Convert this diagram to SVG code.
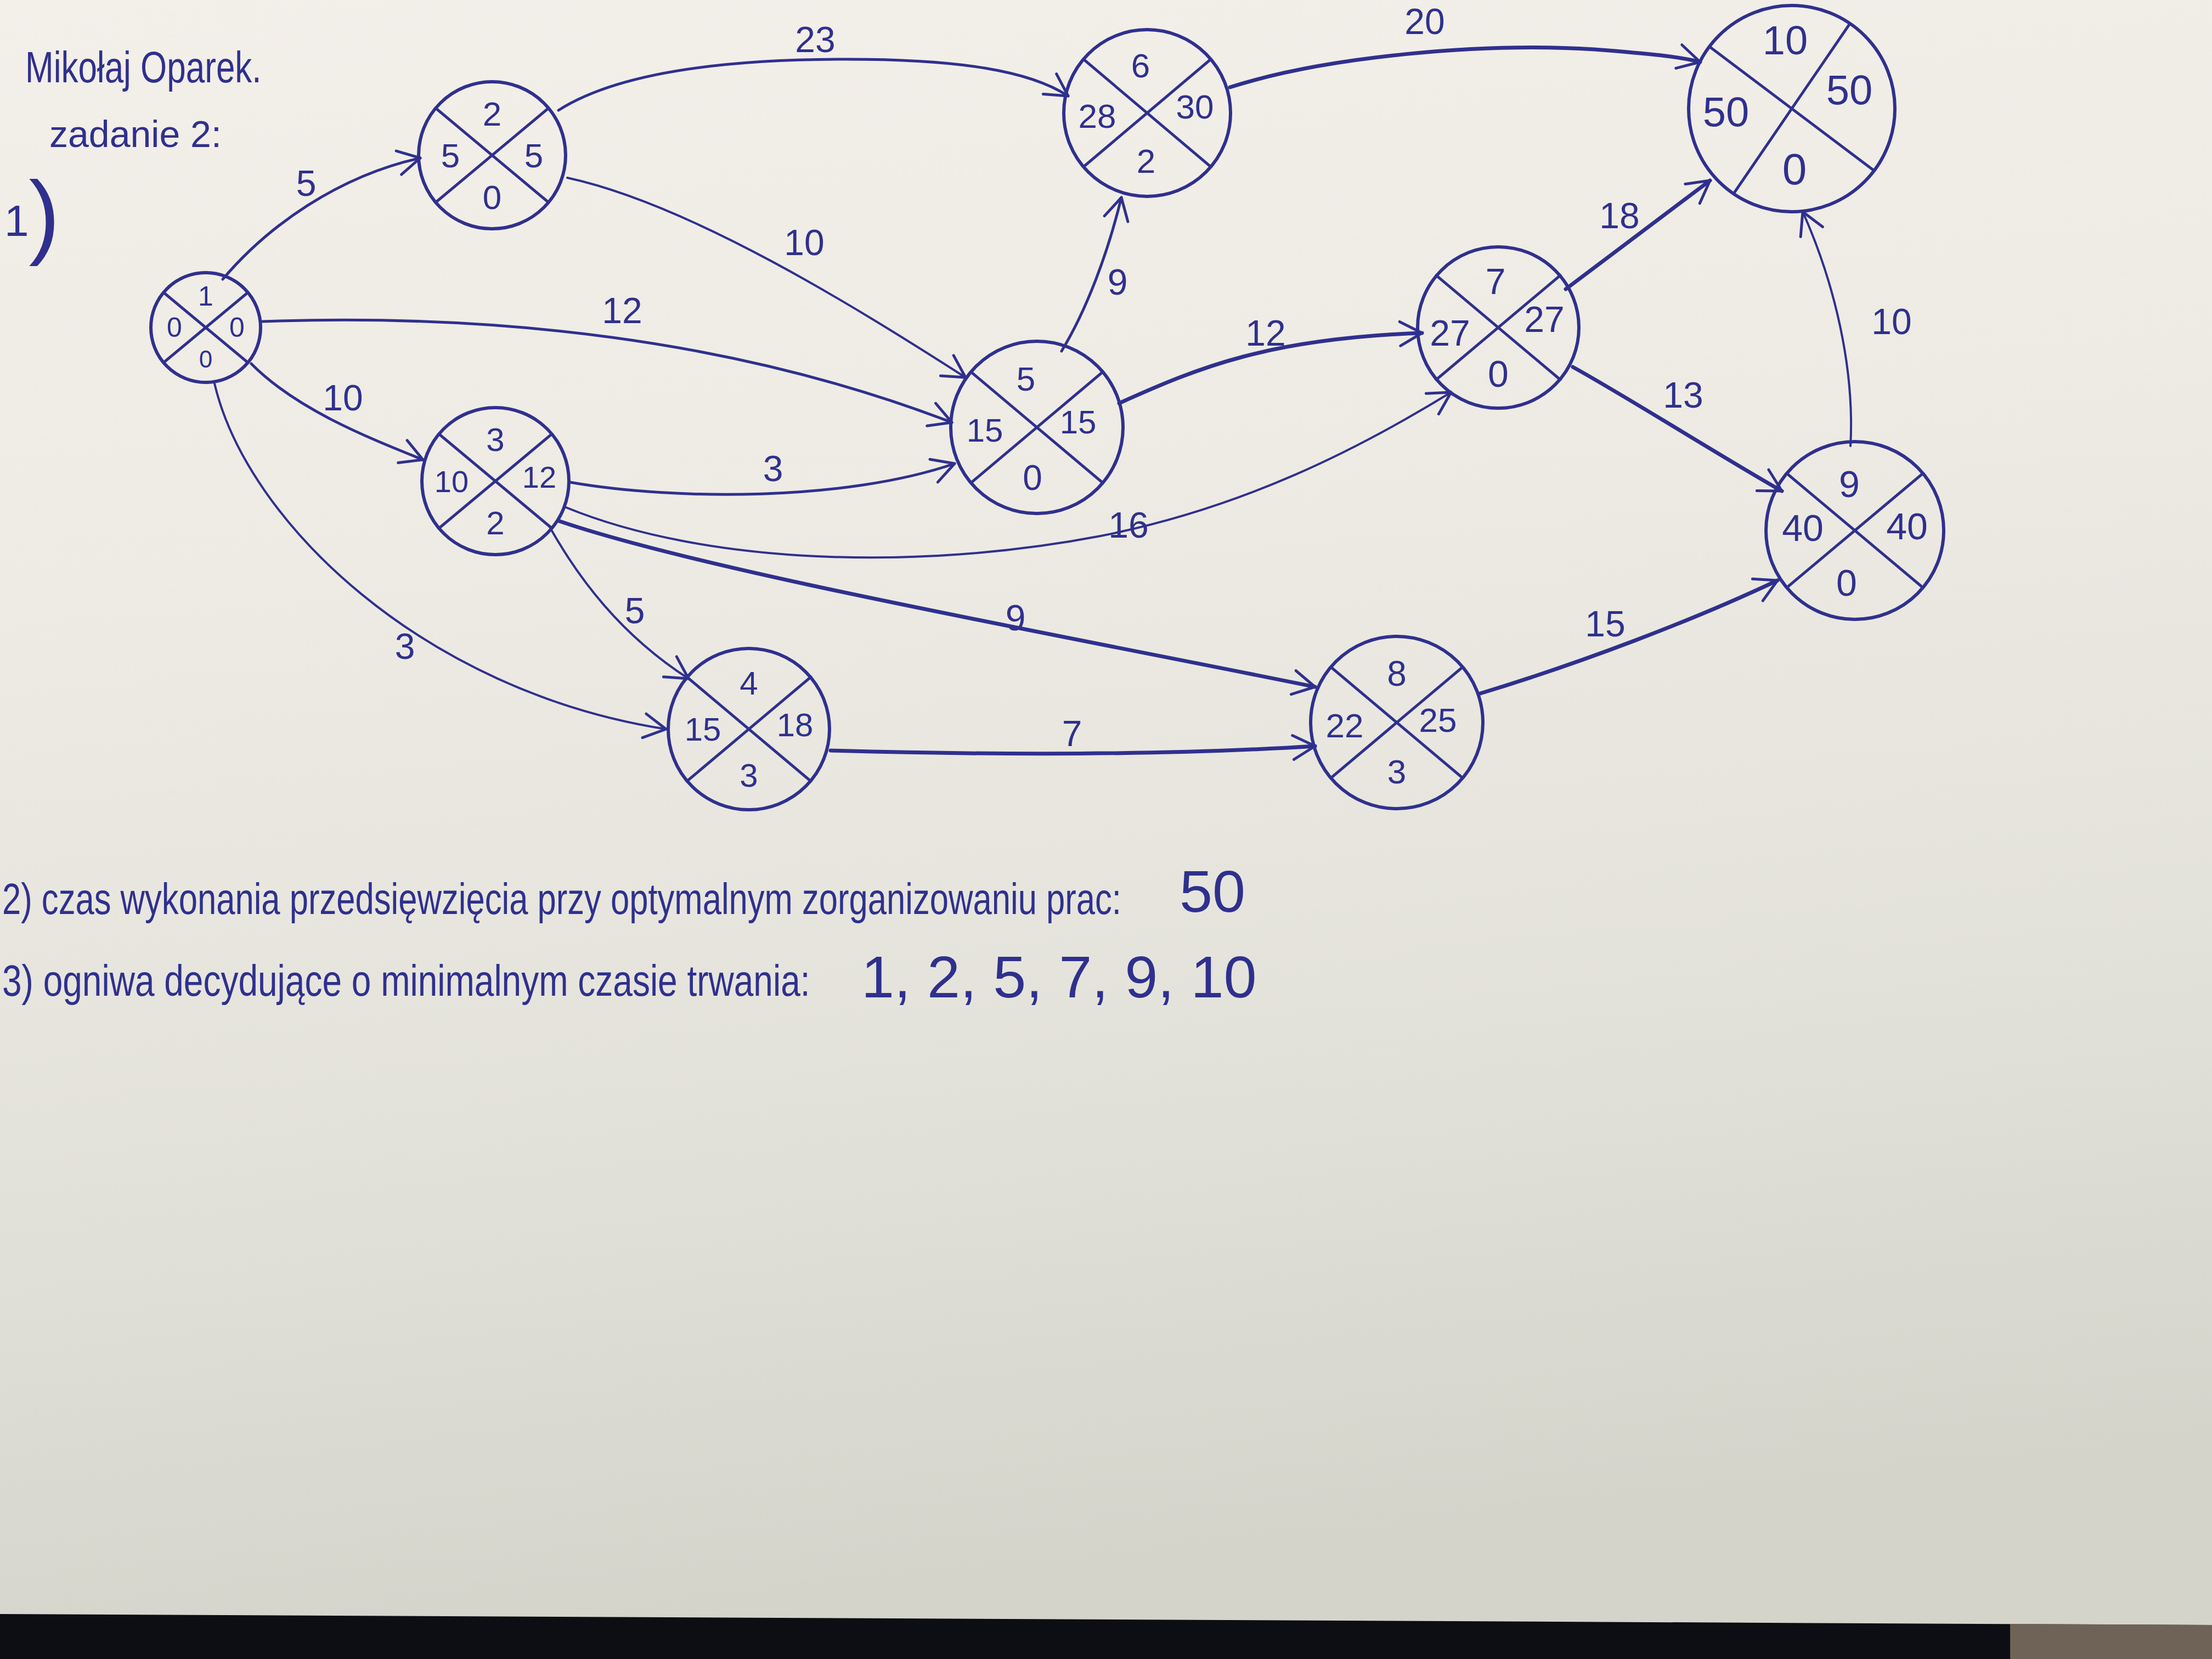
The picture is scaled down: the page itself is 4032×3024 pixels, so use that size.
<svg xmlns="http://www.w3.org/2000/svg" width="4032" height="3024" viewBox="0 0 4032 3024">
<style>
.ink{fill:none;stroke:#2f308e;stroke-linecap:round;stroke-linejoin:round}
.nc{stroke-width:6}
.nl{stroke-width:5}
.e1{stroke-width:7}
.e2{stroke-width:5}
.e3{stroke-width:4}
text{fill:#2f308e;font-family:"Liberation Sans","DejaVu Sans",sans-serif}
.v{text-anchor:middle;dominant-baseline:central}
.lb{text-anchor:middle;dominant-baseline:central;font-size:66px}
</style>
<defs>
<linearGradient id="paper" x1="0" y1="0" x2="0.15" y2="1">
<stop offset="0" stop-color="#f3efe9"/>
<stop offset="0.35" stop-color="#eeebe4"/>
<stop offset="0.7" stop-color="#e3e2da"/>
<stop offset="1" stop-color="#d5d4cb"/>
</linearGradient>
<marker id="arr" viewBox="-50 -30 60 60" refX="0" refY="0" markerWidth="60" markerHeight="60" markerUnits="userSpaceOnUse" orient="auto">
<path d="M-40,-22 L0,0 L-40,22" fill="none" stroke="#2f308e" stroke-width="5" stroke-linecap="round" stroke-linejoin="round"/>
</marker>
</defs>

<rect x="0" y="0" width="4032" height="3024" fill="url(#paper)"/>
<polygon points="0,2942 4032,2962 4032,3024 0,3024" fill="#0c0e13"/>
<polygon points="3664,2960 4032,2962 4032,3024 3664,3024" fill="#6e6356"/>

<g id="header">
<text transform="translate(46,150) scale(0.775,1)" font-size="80">Mikołaj Oparek.</text>
<text x="90" y="268" font-size="68">zadanie 2:</text>
<text x="8" y="430" font-size="80">1<tspan font-size="170" dy="20">)</tspan></text>
</g>

<g id="connectors">
<path class="ink e2" marker-end="url(#arr)" d="M406,509 C489,411 617,321 766,288"/>
<path class="ink e2" marker-end="url(#arr)" d="M1018,201 C1131,129 1337,108 1543,108 C1749,108 1877,129 1947,175"/>
<path class="ink e3" marker-end="url(#arr)" d="M1034,324 C1260,373 1560,560 1760,688"/>
<path class="ink e2" marker-end="url(#arr)" d="M478,586 C900,571 1337,617 1735,770"/>
<path class="ink e2" marker-end="url(#arr)" d="M458,663 C540,746 669,797 771,838"/>
<path class="ink e3" marker-end="url(#arr)" d="M391,699 C450,951 771,1260 1214,1329"/>
<path class="ink e2" marker-end="url(#arr)" d="M1039,879 C1234,913 1543,913 1740,845"/>
<path class="ink e3" marker-end="url(#arr)" d="M1032,925 C1286,1029 1671,1041 2006,977 C2263,926 2469,823 2645,715"/>
<path class="ink e3" marker-end="url(#arr)" d="M1000,957 C1054,1054 1131,1157 1255,1237"/>
<path class="ink e1" marker-end="url(#arr)" d="M1020,950 C1286,1041 1929,1157 2397,1252"/>
<path class="ink e1" marker-end="url(#arr)" d="M1514,1368 C1800,1376 2109,1378 2397,1360"/>
<path class="ink e2" marker-end="url(#arr)" d="M1935,640 C1980,566 2019,463 2044,360"/>
<path class="ink e1" marker-end="url(#arr)" d="M2040,735 C2186,669 2314,617 2592,607"/>
<path class="ink e1" marker-end="url(#arr)" d="M2242,159 C2417,103 2700,77 2906,90 C3009,98 3060,103 3099,113"/>
<path class="ink e1" marker-end="url(#arr)" d="M2854,527 L3117,329"/>
<path class="ink e1" marker-end="url(#arr)" d="M2867,669 C2960,720 3150,840 3248,895"/>
<path class="ink e3" marker-end="url(#arr)" d="M3373,813 C3381,669 3343,514 3286,386"/>
<path class="ink e1" marker-end="url(#arr)" d="M2695,1265 C2880,1209 3086,1131 3240,1058"/>
<text class="lb" x="558" y="334">5</text>
<text class="lb" x="1486" y="72">23</text>
<text class="lb" x="1466" y="442">10</text>
<text class="lb" x="1134" y="566">12</text>
<text class="lb" x="625" y="725">10</text>
<text class="lb" x="738" y="1178">3</text>
<text class="lb" x="1409" y="854">3</text>
<text class="lb" x="2057" y="957">16</text>
<text class="lb" x="1157" y="1113">5</text>
<text class="lb" x="1851" y="1126">9</text>
<text class="lb" x="1954" y="1337">7</text>
<text class="lb" x="2037" y="514">9</text>
<text class="lb" x="2307" y="607">12</text>
<text class="lb" x="2597" y="39">20</text>
<text class="lb" x="2952" y="393">18</text>
<text class="lb" x="3068" y="720">13</text>
<text class="lb" x="3448" y="586" font-size="72">10</text>
<text class="lb" x="2926" y="1137">15</text>
</g>

<g id="node-1" transform="translate(375,597)">
<circle class="ink nc" r="100"/>
<line class="ink nl" x1="-77" y1="-64" x2="77" y2="64"/>
<line class="ink nl" x1="77" y1="-64" x2="-77" y2="64"/>
<text class="v" font-size="50" x="0" y="-57">1</text>
<text class="v" font-size="50" x="-57" y="0">0</text>
<text class="v" font-size="50" x="57" y="0">0</text>
<text class="v" font-size="44" x="0" y="57">0</text>
</g>
<g id="node-2" transform="translate(897,283)">
<circle class="ink nc" r="134"/>
<line class="ink nl" x1="-103" y1="-86" x2="103" y2="86"/>
<line class="ink nl" x1="103" y1="-86" x2="-103" y2="86"/>
<text class="v" font-size="62" x="0" y="-76">2</text>
<text class="v" font-size="62" x="-76" y="0">5</text>
<text class="v" font-size="62" x="76" y="0">5</text>
<text class="v" font-size="62" x="0" y="76">0</text>
</g>
<g id="node-3" transform="translate(903,877)">
<circle class="ink nc" r="134"/>
<line class="ink nl" x1="-103" y1="-86" x2="103" y2="86"/>
<line class="ink nl" x1="103" y1="-86" x2="-103" y2="86"/>
<text class="v" font-size="60" x="0" y="-76">3</text>
<text class="v" font-size="56" x="-80" y="0">10</text>
<text class="v" font-size="56" x="80" y="-8">12</text>
<text class="v" font-size="60" x="0" y="76">2</text>
</g>
<g id="node-4" transform="translate(1365,1329)">
<circle class="ink nc" r="147"/>
<line class="ink nl" x1="-113" y1="-95" x2="113" y2="95"/>
<line class="ink nl" x1="113" y1="-95" x2="-113" y2="95"/>
<text class="v" font-size="60" x="0" y="-84">4</text>
<text class="v" font-size="60" x="-84" y="0">15</text>
<text class="v" font-size="60" x="84" y="-8">18</text>
<text class="v" font-size="60" x="0" y="84">3</text>
</g>
<g id="node-5" transform="translate(1890,779)">
<circle class="ink nc" r="157"/>
<line class="ink nl" x1="-120" y1="-101" x2="120" y2="101"/>
<line class="ink nl" x1="120" y1="-101" x2="-120" y2="101"/>
<text class="v" font-size="62" x="-20" y="-89">5</text>
<text class="v" font-size="60" x="-95" y="5">15</text>
<text class="v" font-size="60" x="75" y="-10">15</text>
<text class="v" font-size="64" x="-8" y="92">0</text>
</g>
<g id="node-6" transform="translate(2091,206)">
<circle class="ink nc" r="152"/>
<line class="ink nl" x1="-116" y1="-98" x2="116" y2="98"/>
<line class="ink nl" x1="116" y1="-98" x2="-116" y2="98"/>
<text class="v" font-size="62" x="-12" y="-87">6</text>
<text class="v" font-size="62" x="-91" y="5">28</text>
<text class="v" font-size="62" x="87" y="-12">30</text>
<text class="v" font-size="62" x="-2" y="87">2</text>
</g>
<g id="node-7" transform="translate(2731,597)">
<circle class="ink nc" r="147"/>
<line class="ink nl" x1="-113" y1="-95" x2="113" y2="95"/>
<line class="ink nl" x1="113" y1="-95" x2="-113" y2="95"/>
<text class="v" font-size="66" x="-5" y="-84">7</text>
<text class="v" font-size="66" x="-88" y="10">27</text>
<text class="v" font-size="66" x="84" y="-15">27</text>
<text class="v" font-size="68" x="0" y="84">0</text>
</g>
<g id="node-8" transform="translate(2546,1317)">
<circle class="ink nc" r="157"/>
<line class="ink nl" x1="-120" y1="-101" x2="120" y2="101"/>
<line class="ink nl" x1="120" y1="-101" x2="-120" y2="101"/>
<text class="v" font-size="64" x="0" y="-89">8</text>
<text class="v" font-size="62" x="-95" y="5">22</text>
<text class="v" font-size="62" x="75" y="-5">25</text>
<text class="v" font-size="62" x="0" y="89">3</text>
</g>
<g id="node-9" transform="translate(3381,967)">
<circle class="ink nc" r="162"/>
<line class="ink nl" x1="-124" y1="-104" x2="124" y2="104"/>
<line class="ink nl" x1="124" y1="-104" x2="-124" y2="104"/>
<text class="v" font-size="68" x="-10" y="-85">9</text>
<text class="v" font-size="68" x="-95" y="-5">40</text>
<text class="v" font-size="68" x="95" y="-8">40</text>
<text class="v" font-size="68" x="-15" y="95">0</text>
</g>
<g id="node-10" transform="translate(3266,198)">
<circle class="ink nc" r="188"/>
<line class="ink nl" x1="-150" y1="-113" x2="150" y2="113"/>
<line class="ink nl" x1="106" y1="-155" x2="-106" y2="155"/>
<text class="v" font-size="74" x="-12" y="-125">10</text>
<text class="v" font-size="76" x="-120" y="5">50</text>
<text class="v" font-size="76" x="105" y="-35">50</text>
<text class="v" font-size="80" x="5" y="110">0</text>
</g>

<g id="answers">
<text transform="translate(4,1666) scale(0.77,1)" font-size="80">2) czas wykonania przedsięwzięcia przy optymalnym zorganizowaniu prac:</text>
<text x="2150" y="1662" font-size="108">50</text>
<text transform="translate(4,1815) scale(0.8,1)" font-size="80">3) ogniwa decydujące o minimalnym czasie trwania:</text>
<text x="1570" y="1818" font-size="108">1, 2, 5, 7, 9, 10</text>
</g>
</svg>
